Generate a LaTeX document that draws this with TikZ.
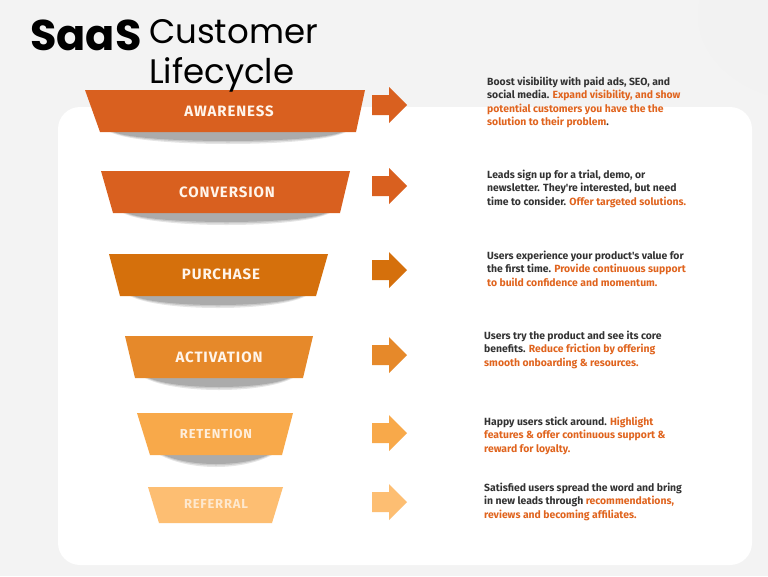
\documentclass[tikz,border=0pt]{standalone}
\usepackage{fontspec}
\setmainfont{Poppins}
\newfontfamily\bodyf{Fira Sans}
\newfontfamily\lblf[LetterSpace=6]{Fira Sans}
\begin{document}
\begin{tikzpicture}[x=1pt,y=-1pt,
  lbl/.style={font=\lblf\bfseries\fontsize{15}{17}\selectfont, text=white!92!orange},
  desc/.style={anchor=base west, inner sep=0pt, font=\bodyf\bfseries\fontsize{10.4}{12}\selectfont, text=dtext}]
\definecolor{bg}{HTML}{F3F3F3}
\definecolor{dtext}{HTML}{333333}
\definecolor{org}{HTML}{E0641E}
\definecolor{c1}{HTML}{D9601F}
\definecolor{c2}{HTML}{D9601F}
\definecolor{c3}{HTML}{D5700C}
\definecolor{c4}{HTML}{E6892A}
\definecolor{c5}{HTML}{F8A94A}
\definecolor{c6}{HTML}{FDBE72}
\useasboundingbox (0,0) rectangle (768,576);
\fill[bg] (0,0) rectangle (768,576);
\fill[black!5] (700,0) .. controls (690,40) and (720,80) .. (768,95) -- (768,0) -- cycle;
\fill[white, rounded corners=22] (58,107) rectangle (752,565);
% shadows
\foreach \l/\r/\y in {100/356/132, 113/340/213, 120/316/296, 135/303/378, 150/282/455}{
  \foreach \k/\o in {0/0.10,2/0.12,4/0.15}{
    \fill[black, opacity=\o] (\l+10+\k,\y) .. controls ({\l+40},\y+16-\k) and ({\r-40},\y+16-\k) .. (\r-10-\k,\y) -- cycle;
  }
}
% funnel steps
\fill[c1] (85,90) -- (365,90) -- (356,132) -- (100,132) -- cycle;
\node[lbl] (aw) at (229,111) {AWARENESS};
\fill[c2] (101,171) -- (350,171) -- (340,213) -- (113,213) -- cycle;
\node[lbl] (co) at (227,192) {CONVERSION};
\fill[c3] (109,254) -- (328,254) -- (316,296) -- (120,296) -- cycle;
\node[lbl] (pu) at (221,274) {PURCHASE};
\fill[c4] (125,336) -- (313,336) -- (303,378) -- (135,378) -- cycle;
\node[lbl] (ac) at (219,357) {ACTIVATION};
\fill[c5] (137,413) -- (293,413) -- (282,455) -- (150,455) -- cycle;
\node[lbl, font=\lblf\bfseries\fontsize{13}{15}\selectfont, text=white!80!c5] (re) at (216,434) {RETENTION};
\fill[c6] (148,487) -- (283,487) -- (272,523) -- (159,523) -- cycle;
\node[lbl, font=\lblf\bfseries\fontsize{13}{15}\selectfont, text=white!65!c6] (rf) at (216,504) {REFERRAL};
% arrows
\foreach \y/\c in {105/c1,186/c2,270/c3,355/c4,433/c5,502/c6}{
  \fill[\c] (372,\y-10) -- (389,\y-10) -- (389,\y-18) -- (407,\y) -- (389,\y+18) -- (389,\y+10) -- (372,\y+10) -- cycle;
}
% descriptions
\node[desc] (d1a) at (487,85) {Boost visibility with paid ads, SEO, and};
\node[desc] (d1b) at (487,98.5) {social media. \textcolor{org}{Expand visibility, and show}};
\node[desc] (d1c) at (487,112) {\textcolor{org}{potential customers you have the the}};
\node[desc] (d1d) at (487,125.5) {\textcolor{org}{solution to their problem}.};
\node[desc] (d2a) at (487,178) {Leads sign up for a trial, demo, or};
\node[desc] (d2b) at (487,191.5) {newsletter. They're interested, but need};
\node[desc] (d2c) at (487,205) {time to consider. \textcolor{org}{Offer targeted solutions.}};
\node[desc] (d3a) at (487,259) {Users experience your product's value for};
\node[desc] (d3b) at (487,272.5) {the first time. \textcolor{org}{Provide continuous support}};
\node[desc] (d3c) at (487,286) {\textcolor{org}{to build confidence and momentum.}};
\node[desc] (d4a) at (484,339) {Users try the product and see its core};
\node[desc] (d4b) at (484,352.5) {benefits. \textcolor{org}{Reduce friction by offering}};
\node[desc] (d4c) at (484,366) {\textcolor{org}{smooth onboarding \& resources.}};
\node[desc] (d5a) at (484,425) {Happy users stick around. \textcolor{org}{Highlight}};
\node[desc] (d5b) at (484,438.5) {\textcolor{org}{features \& offer continuous support \&}};
\node[desc] (d5c) at (484,452) {\textcolor{org}{reward for loyalty.}};
\node[desc] (d6a) at (484,491) {Satisfied users spread the word and bring};
\node[desc] (d6b) at (484,504.5) {in new leads through \textcolor{org}{recommendations,}};
\node[desc] (d6c) at (484,518) {\textcolor{org}{reviews and becoming affiliates.}};
% title
\node[anchor=base west, inner sep=0pt, font=\bfseries\fontsize{43}{45}\selectfont] (t1) at (30,50) {SaaS};
\node[anchor=base west, inner sep=0pt, font=\fontsize{34}{35}\selectfont] (t2) at (149,43) {Customer};
\node[anchor=base west, inner sep=0pt, font=\fontsize{34}{35}\selectfont] (t3) at (149,83) {Lifecycle};
\end{tikzpicture}
\end{document}
